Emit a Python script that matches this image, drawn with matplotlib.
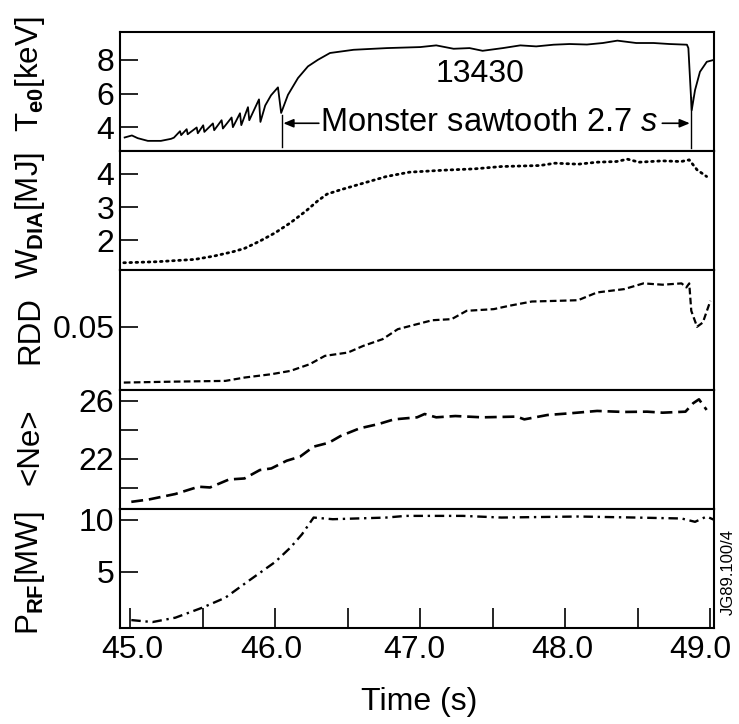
import matplotlib
matplotlib.use("Agg")
import matplotlib.pyplot as plt
import matplotlib.transforms as mtransforms

plt.rcParams["font.family"] = "Liberation Sans"
plt.rcParams["mathtext.fontset"] = "custom"
plt.rcParams["mathtext.rm"] = "Liberation Sans"
plt.rcParams["mathtext.bf"] = "Liberation Sans:bold"
plt.rcParams["mathtext.it"] = "Liberation Sans:italic"

# Te0 [keV] (solid, sawteeth then monster sawtooth)
t_te = [44.96, 45.01, 45.05, 45.12, 45.21, 45.28, 45.30,
        45.342, 45.35, 45.388, 45.395, 45.457, 45.465, 45.502, 45.51,
        45.569, 45.578, 45.629, 45.638, 45.698, 45.707, 45.756, 45.765,
        45.811, 45.82, 45.887, 45.897, 45.93, 45.97, 46.018, 46.04,
        46.087, 46.156, 46.225, 46.294, 46.377, 46.54, 46.77, 47.0,
        47.11, 47.23, 47.34, 47.43, 47.57, 47.69, 47.80, 47.92, 48.03,
        48.15, 48.26, 48.36, 48.49, 48.61, 48.72, 48.84, 48.85, 48.873,
        48.896, 48.93, 48.977, 49.02]
te = [3.41, 3.53, 3.37, 3.21, 3.21, 3.33, 3.40,
      3.78, 3.55, 3.90, 3.60, 4.00, 3.66, 4.13, 3.74,
      4.24, 3.84, 4.43, 3.94, 4.59, 4.02, 4.84, 4.14,
      5.20, 4.43, 5.66, 4.33, 5.30, 5.90, 6.37, 4.86,
      5.93, 6.92, 7.61, 8.00, 8.40, 8.59, 8.69, 8.75,
      8.85, 8.65, 8.69, 8.53, 8.69, 8.85, 8.79, 8.89, 8.93,
      8.90, 8.99, 9.13, 8.99, 8.99, 8.93, 8.89, 8.69, 5.02,
      6.21, 7.29, 7.88, 7.98]

# W_DIA [MJ] (dotted)
t_w = [44.954, 45.18, 45.443, 45.576, 45.707, 45.787, 45.893, 45.999,
       46.104, 46.21, 46.29, 46.356, 46.449, 46.607, 46.766, 46.925,
       47.163, 47.375, 47.56, 47.825, 47.93, 48.09, 48.22, 48.354,
       48.43, 48.51, 48.67, 48.80, 48.856, 48.91, 48.976]
w_dia = [1.33, 1.36, 1.43, 1.53, 1.66, 1.76, 1.98, 2.23,
         2.53, 2.88, 3.18, 3.39, 3.52, 3.72, 3.92, 4.05,
         4.11, 4.15, 4.22, 4.25, 4.32, 4.29, 4.35, 4.37,
         4.44, 4.35, 4.39, 4.37, 4.42, 4.12, 3.92]

# RDD (short dashes)
t_rdd = [44.954, 45.31, 45.655, 45.787, 45.972, 46.104, 46.237, 46.342,
         46.501, 46.607, 46.74, 46.845, 46.978, 47.083, 47.216, 47.32,
         47.507, 47.613, 47.77, 47.956, 48.089, 48.22, 48.407, 48.54,
         48.672, 48.803, 48.836, 48.856, 48.87, 48.91, 48.95, 49.002]
rdd = [0.0032, 0.0040, 0.0046, 0.0074, 0.0102, 0.0130, 0.0186, 0.0256,
       0.0284, 0.0340, 0.0396, 0.0480, 0.0522, 0.0555, 0.0564, 0.0634,
       0.0648, 0.0676, 0.0712, 0.0718, 0.0723, 0.0788, 0.0816, 0.0864,
       0.0853, 0.0864, 0.0830, 0.0864, 0.0634, 0.0500, 0.0536, 0.0718]

# <Ne> (long dashes)
t_ne = [45.006, 45.126, 45.31, 45.47, 45.549, 45.68, 45.787, 45.893,
        45.972, 46.078, 46.17, 46.264, 46.369, 46.449, 46.581, 46.713,
        46.819, 46.978, 47.03, 47.11, 47.242, 47.428, 47.666, 47.718,
        47.877, 48.036, 48.22, 48.407, 48.565, 48.672, 48.83, 48.883,
        48.923, 48.976]
ne = [19.03, 19.19, 19.57, 20.07, 20.02, 20.57, 20.64, 21.22,
      21.33, 21.86, 22.14, 22.83, 23.10, 23.56, 24.09, 24.39,
      24.71, 24.85, 25.08, 24.85, 24.94, 24.85, 24.90, 24.71,
      25.01, 25.13, 25.29, 25.22, 25.24, 25.17, 25.24, 25.82,
      26.09, 25.36]

# P_RF [MW] (dash-dot)
t_rf = [45.006, 45.152, 45.31, 45.496, 45.655, 45.814, 45.999, 46.104,
        46.184, 46.264, 46.396, 46.766, 46.899, 47.295, 47.56, 48.09,
        48.486, 48.803, 48.896, 48.976, 49.028]
p_rf = [0.38, 0.19, 0.61, 1.57, 2.53, 4.13, 5.96, 7.34,
        8.62, 10.22, 10.06, 10.22, 10.38, 10.38, 10.22, 10.32,
        10.22, 10.13, 9.81, 10.32, 10.0]

t_start = 46.045  # monster sawtooth start
t_end = 48.87     # monster sawtooth crash

fig = plt.figure(figsize=(7.39, 7.24), dpi=100)
fig.subplots_adjust(left=0.1624, right=0.9662, top=0.9558, bottom=0.1326, hspace=0)
axes = fig.subplots(5, 1, sharex=True)
ax1, ax2, ax3, ax4, ax5 = axes

ax1.plot(t_te, te, color="black", lw=1.3)
ax2.plot(t_w, w_dia, color="black", lw=2.0, linestyle=(0, (0.6, 1.6)), dash_capstyle="round")
ax3.plot(t_rdd, rdd, color="black", lw=1.6, linestyle=(0, (3, 1.5)))
ax4.plot(t_ne, ne, color="black", lw=1.9, linestyle=(0, (4.5, 2.2)))
ax5.plot(t_rf, p_rf, color="black", lw=1.7, linestyle=(0, (4, 2, 1, 2)))

ax1.set_ylim(2.60, 9.64)
ax1.set_yticks([4, 6, 8])
ax2.set_ylim(1.10, 4.68)
ax2.set_yticks([2, 3, 4])
ax3.set_ylim(-0.0027, 0.0973)
ax3.set_yticks([0.05])
ax3.set_yticklabels(["0.05"])
ax4.set_ylim(18.55, 26.76)
ax4.set_yticks([20, 22, 24, 26])
ax4.set_yticklabels(["", "22", "", "26"])
ax5.set_ylim(-0.38, 11.06)
ax5.set_yticks([5, 10])

ax5.set_xlim(44.928, 49.027)
xt = [45.0, 45.5, 46.0, 46.5, 47.0, 47.5, 48.0, 48.5, 49.0]
ax5.set_xticks(xt)
ax5.set_xticklabels([f"{v:.1f}" if v == int(v) else "" for v in xt])

for ax in axes:
    for s in ax.spines.values():
        s.set_linewidth(1.5)
    ax.tick_params(axis="y", direction="in", length=13, width=1.2,
                   labelsize=23, pad=4)
    ax.tick_params(axis="x", bottom=False, labelbottom=False)
ax5.tick_params(axis="x", bottom=True, labelbottom=True, direction="in",
                length=14.5, width=1.2, labelsize=23, pad=5)

# x labels sit a little left of their ticks in the original; 49.0 most of all
shifts = [0.02, 0, -0.04, 0, -0.06, 0, -0.03, 0, -0.10]
for lab, dx in zip(ax5.get_xticklabels(), shifts):
    lab.set_transform(lab.get_transform() + mtransforms.ScaledTranslation(dx, 0, fig.dpi_scale_trans))

# annotations in the Te panel
ax1.plot([t_start, t_start], [2.83, 4.73], color="black", lw=1.0)
ax1.plot([t_end, t_end], [2.77, 5.79], color="black", lw=1.0)
ax1.text(47.41, 7.15, "13430", fontsize=23, ha="center", va="center")
ax1.text(46.31, 4.30, r"Monster sawtooth 2.7 $\mathit{s}$", fontsize=23.5,
         ha="left", va="center")
ax1.annotate("", xy=(t_end - 0.01, 4.25), xytext=(48.67, 4.25),
             arrowprops=dict(arrowstyle="-|>,head_length=0.6,head_width=0.25",
                             color="black", lw=1.2, shrinkA=0, shrinkB=0))
ax1.annotate("", xy=(t_start + 0.01, 4.25), xytext=(46.30, 4.25),
             arrowprops=dict(arrowstyle="-|>,head_length=0.6,head_width=0.25",
                             color="black", lw=1.2, shrinkA=0, shrinkB=0))

# left-hand labels
lab_x = 30 / 739
fig.text(lab_x, 1 - 74 / 724, r"$\mathrm{T}_{\mathbf{e0}}$[keV]", rotation=90,
         fontsize=22.5, ha="center", va="center")
fig.text(lab_x, 1 - 215 / 724, r"$\mathrm{W}_{\mathbf{DIA}}$[MJ]", rotation=90,
         fontsize=22.5, ha="center", va="center")
fig.text(lab_x, 1 - 330 / 724, "RDD", rotation=90,
         fontsize=22.5, ha="center", va="center")
fig.text(lab_x, 1 - 447 / 724, "<Ne>", rotation=90,
         fontsize=22.5, ha="center", va="center")
fig.text(lab_x, 1 - 573 / 724, r"$\mathrm{P}_{\mathbf{RF}}$[MW]", rotation=90,
         fontsize=22.5, ha="center", va="center")

fig.text(419 / 739, 1 - 702 / 724, "Time (s)", fontsize=23, ha="center", va="center")
fig.text(728 / 739, 1 - 572 / 724, "JG89.100/4", rotation=90, fontsize=12,
         ha="center", va="center")

fig.savefig("out.png", dpi=100)
